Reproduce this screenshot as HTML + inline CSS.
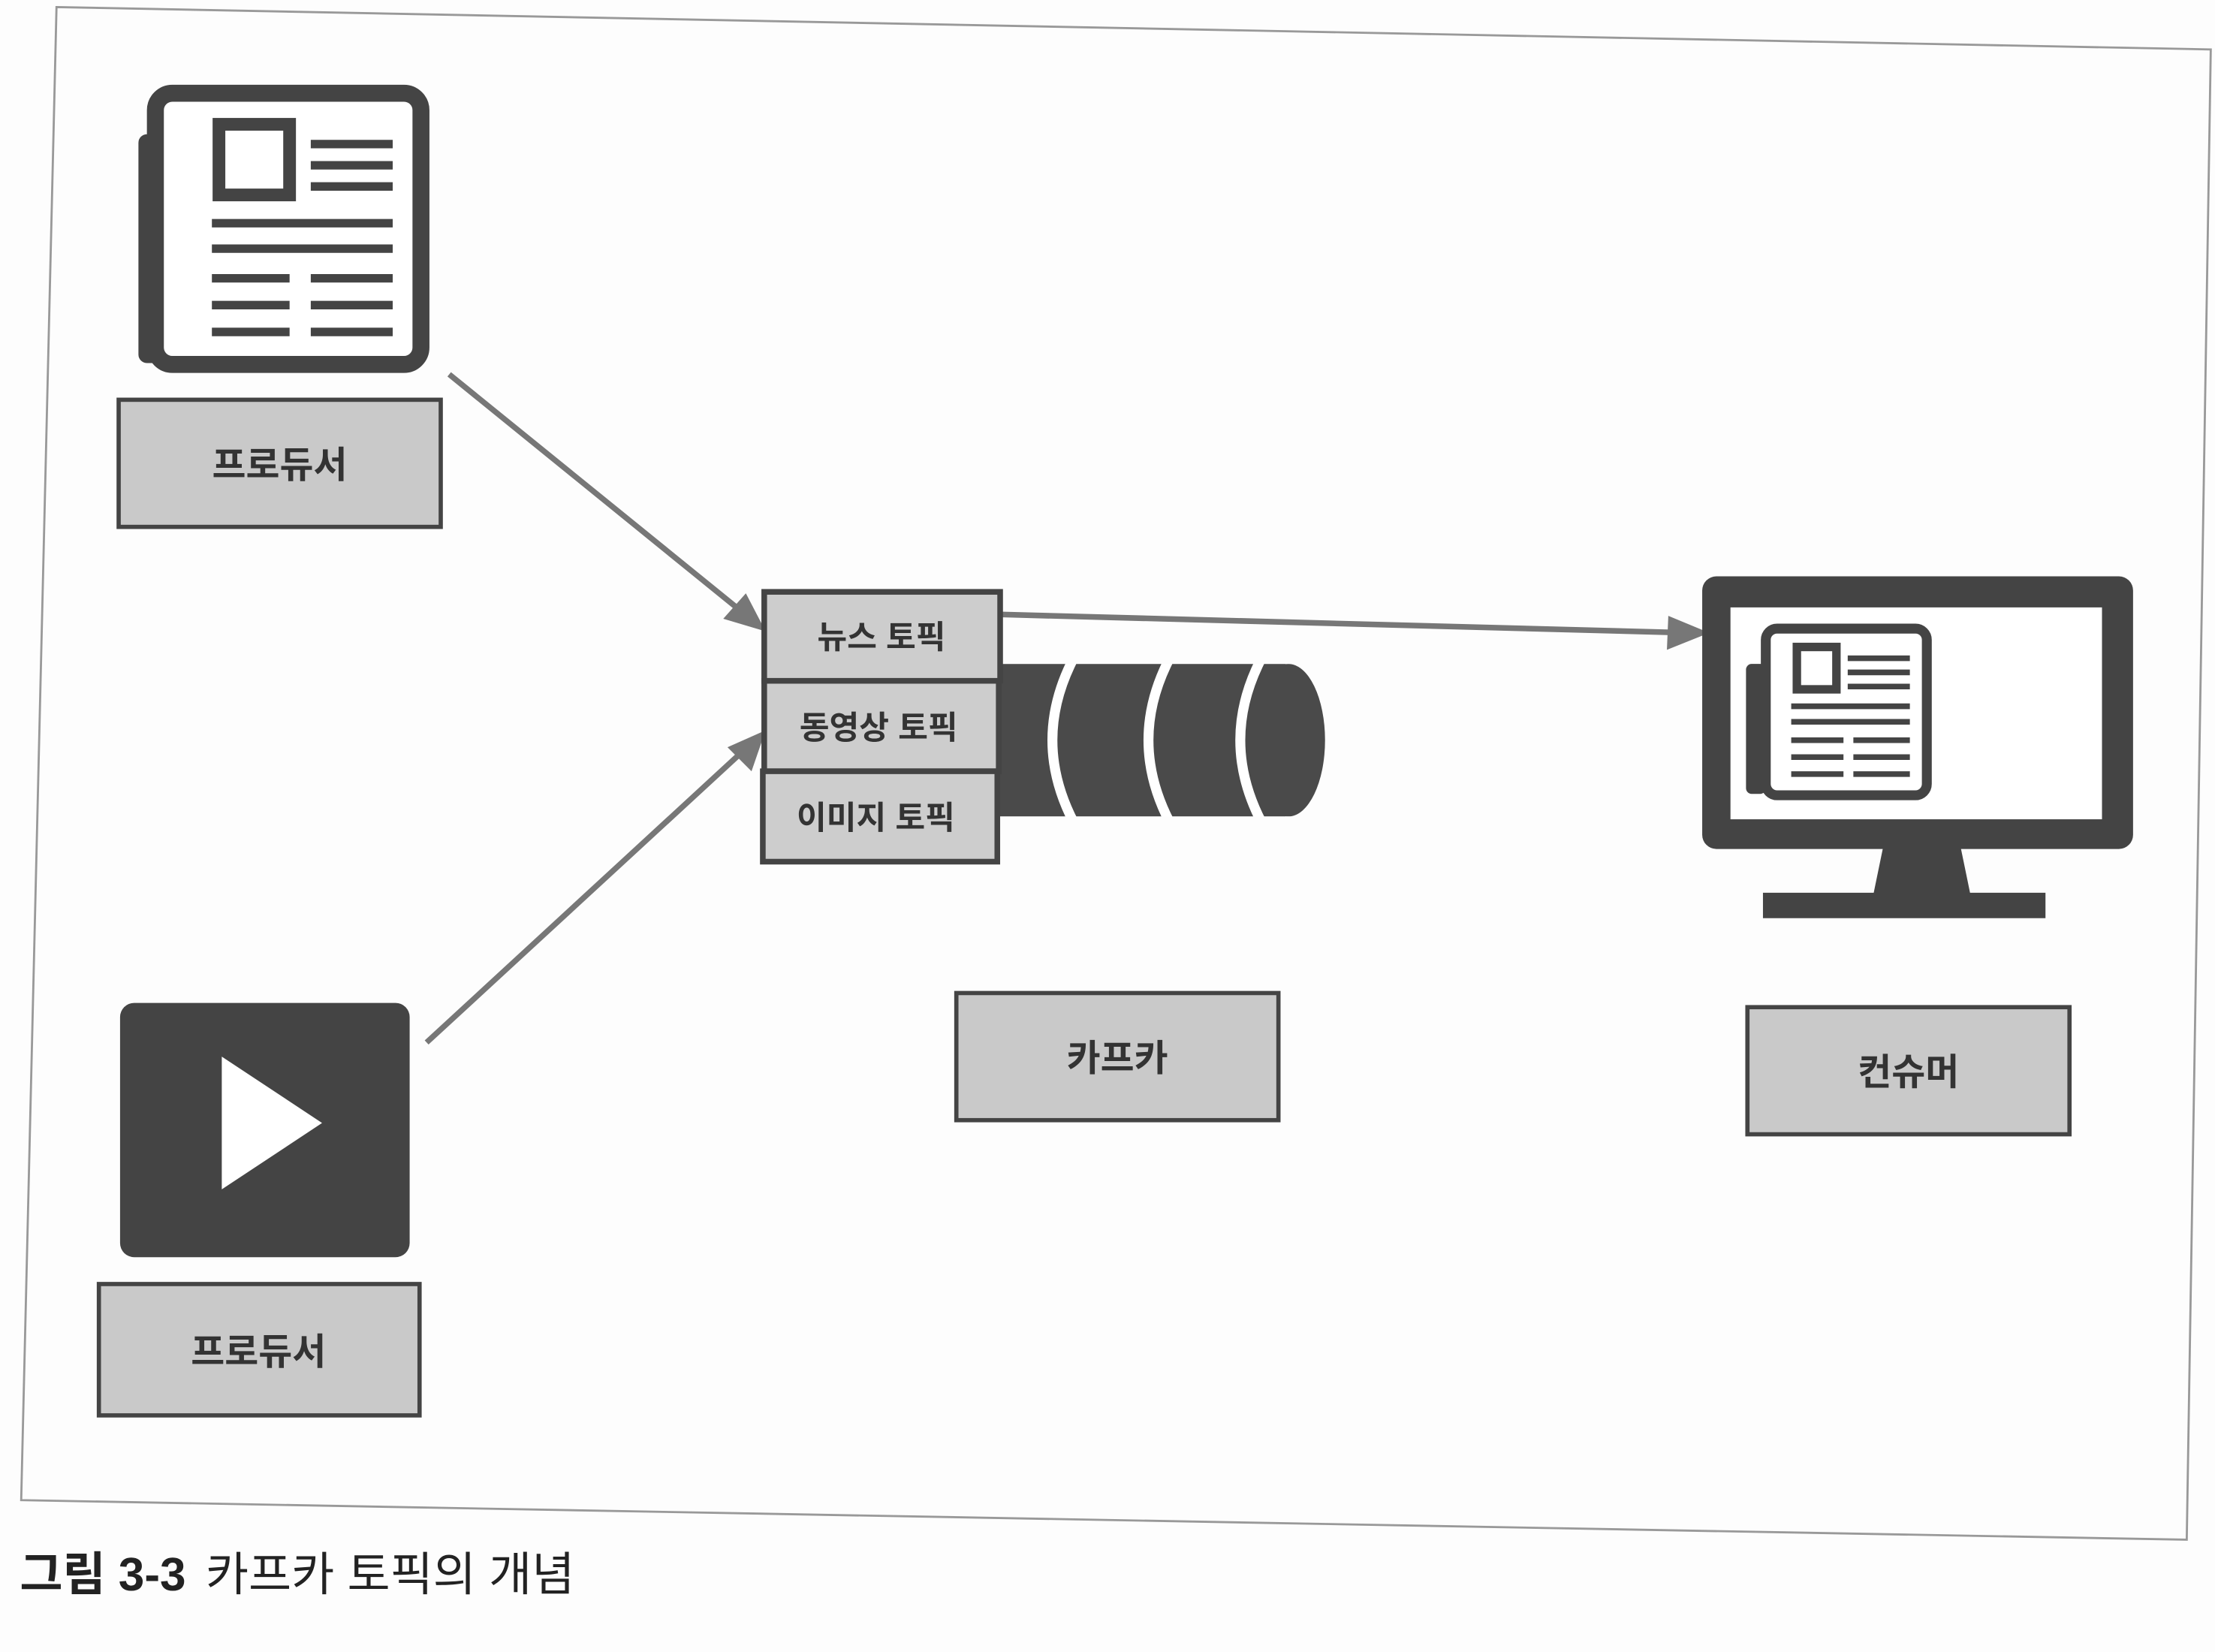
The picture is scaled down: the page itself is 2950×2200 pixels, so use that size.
<!DOCTYPE html>
<html><head><meta charset="utf-8"><style>
html,body{margin:0;padding:0;background:#fff;}
svg{display:block}
text{font-family:"Liberation Sans","Noto Sans CJK KR","NanumGothic",sans-serif;}
</style></head><body>
<svg width="2950" height="2200" viewBox="0 0 1568 1169.5" preserveAspectRatio="none" xmlns="http://www.w3.org/2000/svg">
<rect x="0" y="0" width="1568" height="1170" fill="#fdfdfd"/>
<polygon points="40,5 1565,35 1548,1090 15,1062" fill="none" stroke="#999" stroke-width="1.5"/>

<!-- newspaper producer -->
<rect x="98" y="95" width="20" height="162" rx="6" fill="#444"/>
<rect x="110" y="66" width="188" height="192" rx="12" fill="#fff" stroke="#444" stroke-width="12"/>
<rect x="155" y="88" width="50" height="50" fill="#fff" stroke="#444" stroke-width="9"/>
<g stroke="#444" stroke-width="6">
<line x1="220" y1="102" x2="278" y2="102"/><line x1="220" y1="117" x2="278" y2="117"/><line x1="220" y1="132" x2="278" y2="132"/>
<line x1="150" y1="158" x2="278" y2="158"/><line x1="150" y1="176" x2="278" y2="176"/>
<line x1="150" y1="197" x2="205" y2="197"/><line x1="220" y1="197" x2="278" y2="197"/>
<line x1="150" y1="216" x2="205" y2="216"/><line x1="220" y1="216" x2="278" y2="216"/>
<line x1="150" y1="235" x2="205" y2="235"/><line x1="220" y1="235" x2="278" y2="235"/>
</g>
<rect x="84" y="283" width="228" height="90" fill="#c9c9c9" stroke="#444" stroke-width="3"/>
<text x="198" y="338" font-size="26" font-weight="bold" fill="#333" text-anchor="middle">프로듀서</text>

<!-- video producer -->
<rect x="85" y="710" width="205" height="180" rx="10" fill="#444"/>
<polygon points="157,748 157,842 228,795" fill="#fff"/>
<rect x="70" y="909" width="227" height="93" fill="#c9c9c9" stroke="#444" stroke-width="3"/>
<text x="183" y="966" font-size="26" font-weight="bold" fill="#333" text-anchor="middle">프로듀서</text>

<!-- arrows -->
<g stroke="#777" stroke-width="4" fill="#777">
<line x1="318" y1="265" x2="530" y2="437"/>
<line x1="302" y1="738" x2="530" y2="528"/>
<line x1="708" y1="435" x2="1195" y2="448"/>
</g>
<polygon points="542,447 512,438 528,420" fill="#777"/>
<polygon points="542,517 532,546 515,529" fill="#777"/>
<polygon points="1210,448 1180,460 1181,436" fill="#777"/>

<!-- cylinder -->
<rect x="705" y="470" width="205" height="108" fill="#4a4a4a"/>
<ellipse cx="912" cy="524" rx="26" ry="54" fill="#4a4a4a"/>
<g stroke="#fff" stroke-width="7" fill="none">
<path d="M760,466 Q730,524 760,582"/>
<path d="M828,466 Q798,524 828,582"/>
<path d="M893,466 Q863,524 893,582"/>
</g>
<rect x="700" y="462" width="240" height="8" fill="#fdfdfd"/>
<rect x="700" y="578" width="240" height="8" fill="#fdfdfd"/>

<!-- topics -->
<g fill="#cdcdcd" stroke="#444" stroke-width="4">
<rect x="541" y="419" width="167" height="63"/>
<rect x="541" y="482" width="166" height="64"/>
<rect x="540" y="546" width="166" height="64"/>
</g>
<g font-size="23" font-weight="bold" fill="#333" text-anchor="middle">
<text x="624" y="459">뉴스 토픽</text>
<text x="622" y="523">동영상 토픽</text>
<text x="620" y="587">이미지 토픽</text>
</g>

<rect x="677" y="703" width="228" height="90" fill="#c9c9c9" stroke="#444" stroke-width="3"/>
<text x="791" y="758" font-size="26" font-weight="bold" fill="#333" text-anchor="middle">카프카</text>

<!-- monitor -->
<rect x="1205" y="408" width="305" height="193" rx="10" fill="#444"/>
<rect x="1225" y="430" width="263" height="150" fill="#fff"/>
<polygon points="1333,600 1388,600 1395,634 1326,634" fill="#444"/>
<rect x="1248" y="632" width="200" height="18" fill="#444"/>
<rect x="1236" y="470" width="14" height="92" rx="4" fill="#444"/>
<rect x="1250" y="445" width="114" height="118" rx="8" fill="#fff" stroke="#444" stroke-width="7"/>
<rect x="1272" y="458" width="28" height="30" fill="#fff" stroke="#444" stroke-width="6"/>
<g stroke="#444" stroke-width="4">
<line x1="1308" y1="466" x2="1352" y2="466"/><line x1="1308" y1="476" x2="1352" y2="476"/><line x1="1308" y1="486" x2="1352" y2="486"/>
<line x1="1268" y1="500" x2="1352" y2="500"/><line x1="1268" y1="511" x2="1352" y2="511"/>
<line x1="1268" y1="524" x2="1305" y2="524"/><line x1="1312" y1="524" x2="1352" y2="524"/>
<line x1="1268" y1="536" x2="1305" y2="536"/><line x1="1312" y1="536" x2="1352" y2="536"/>
<line x1="1268" y1="548" x2="1305" y2="548"/><line x1="1312" y1="548" x2="1352" y2="548"/>
</g>
<rect x="1237" y="713" width="228" height="90" fill="#c9c9c9" stroke="#444" stroke-width="3"/>
<text x="1351" y="768" font-size="26" font-weight="bold" fill="#333" text-anchor="middle">컨슈머</text>

<!-- caption -->
<text x="14" y="1126" font-size="33" fill="#222"><tspan font-weight="bold">그림 3-3</tspan><tspan dx="14">카프카 토픽의 개념</tspan></text>
</svg>
</body></html>
